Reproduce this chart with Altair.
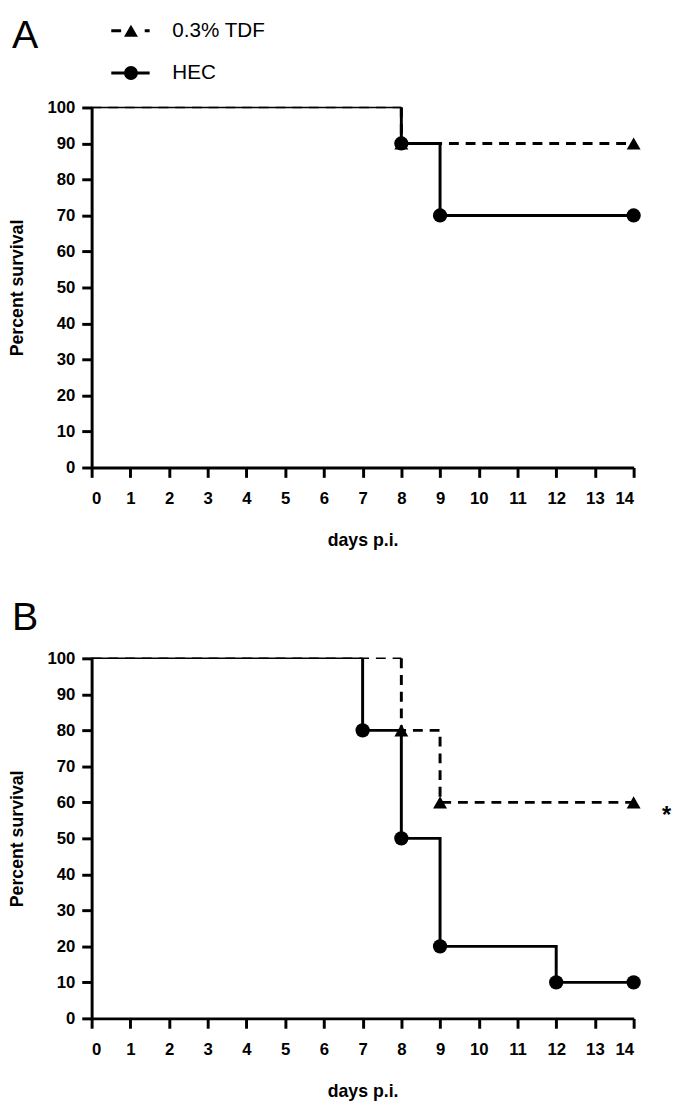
import altair as alt
import pandas as pd

# ---------------- data ----------------
x_ticks = list(range(0, 15))
y_ticks = list(range(0, 101, 10))

a_tdf_days = [0, 8, 14]
a_tdf_surv = [100, 90, 90]
a_hec_days = [0, 8, 9, 14]
a_hec_surv = [100, 90, 70, 70]

b_tdf_days = [0, 8, 9, 14]
b_tdf_surv = [100, 80, 60, 60]
b_hec_days = [0, 7, 8, 9, 12, 14]
b_hec_surv = [100, 80, 50, 20, 10, 10]

series_names = ["0.3% TDF", "HEC"]
panel_labels = ["A", "B"]
x_title = "days p.i."
y_title = "Percent survival"
sig_label = "*"
sig_day = [14.85]
sig_surv = [60]

# ---------------- helpers ----------------
W, H = 551, 366
AX_FONT = "Liberation Sans"
DASH = [10, 7]
DASH_LEG = [10, 24]


def thick_path(days, surv):
    d, s = [days[1]], [surv[0]]
    for i in range(1, len(days)):
        d += [days[i], days[i]]
        s += [surv[i - 1], surv[i]]
    return pd.DataFrame({"day": d, "surv": s, "ord": list(range(len(d)))})


def thin_path(days, surv):
    return pd.DataFrame({"day": [days[0], days[1]], "surv": [surv[0], surv[0]], "ord": [0, 1]})


def markers(days, surv):
    return pd.DataFrame({"day": days[1:], "surv": surv[1:]})


X = alt.X("day:Q", scale=alt.Scale(domain=[0, 14], nice=False, zero=False),
          axis=alt.Axis(values=x_ticks, title=x_title, format="d"))
Y = alt.Y("surv:Q", scale=alt.Scale(domain=[0, 100], nice=False),
          axis=alt.Axis(values=y_ticks, title=y_title, format="d"))

one = pd.DataFrame({"k": [0]})


def panel(tdf_days, tdf_surv, hec_days, hec_surv, letter, letter_y, legend=False, sig=False):
    layers = [
        alt.Chart(thin_path(tdf_days, tdf_surv)).mark_line(color="black", strokeWidth=1.5, strokeDash=DASH)
        .encode(x=X, y=Y, order="ord:Q"),
        alt.Chart(thin_path(hec_days, hec_surv)).mark_line(color="black", strokeWidth=1.5)
        .encode(x=X, y=Y, order="ord:Q"),
        alt.Chart(thick_path(tdf_days, tdf_surv)).mark_line(color="black", strokeWidth=3, strokeDash=DASH)
        .encode(x=X, y=Y, order="ord:Q"),
        alt.Chart(thick_path(hec_days, hec_surv)).mark_line(color="black", strokeWidth=3)
        .encode(x=X, y=Y, order="ord:Q"),
        alt.Chart(markers(tdf_days, tdf_surv)).mark_point(shape="triangle-up", filled=True, size=200,
                                                          color="black", opacity=1)
        .encode(x=X, y=Y),
        alt.Chart(markers(hec_days, hec_surv)).mark_point(shape="circle", filled=True, size=210,
                                                          color="black", opacity=1)
        .encode(x=X, y=Y),
        alt.Chart(one).mark_text(text=letter, font="Liberation Sans", fontSize=40, align="left",
                                 baseline="alphabetic", color="black")
        .encode(x=alt.value(-81), y=alt.value(letter_y)),
    ]
    if legend:
        rows = [(-78, series_names[0], "triangle-up", DASH_LEG), (-35, series_names[1], "circle", None)]
        for yy, name, shp, dash in rows:
            rule_kw = dict(color="black", strokeWidth=3)
            if dash:
                rule_kw["strokeDash"] = dash
            layers.append(alt.Chart(one).mark_rule(**rule_kw)
                          .encode(x=alt.value(20), x2=alt.value(59), y=alt.value(yy)))
            layers.append(alt.Chart(one).mark_point(shape=shp, filled=True, size=200, color="black", opacity=1)
                          .encode(x=alt.value(40), y=alt.value(yy)))
            layers.append(alt.Chart(one).mark_text(text=name, font=AX_FONT, fontSize=21, align="left",
                                                   baseline="middle", color="black")
                          .encode(x=alt.value(82), y=alt.value(yy)))
    if sig:
        sdf = pd.DataFrame({"day": sig_day, "surv": sig_surv, "lab": [sig_label]})
        layers.append(alt.Chart(sdf).mark_text(font=AX_FONT, fontSize=24, fontWeight="bold", align="center",
                                               baseline="alphabetic", dy=21, color="black")
                      .encode(x=X, y=Y, text="lab:N"))
    return alt.layer(*layers).properties(width=W, height=H)


chart_a = panel(a_tdf_days, a_tdf_surv, a_hec_days, a_hec_surv, panel_labels[0], -60, legend=True)
chart_b = panel(b_tdf_days, b_tdf_surv, b_hec_days, b_hec_surv, panel_labels[1], -29, sig=True)

chart = alt.vconcat(chart_a, chart_b, spacing=50).properties(padding=0).configure_view(
    stroke=None
).configure_axis(
    grid=False,
    domainColor="black", domainWidth=3,
    tickColor="black", tickWidth=3, tickSize=10,
    labelFont=AX_FONT, labelFontWeight="bold", labelFontSize=17, labelColor="black",
    titleFont=AX_FONT, titleFontWeight="bold", titleFontSize=18, titleColor="black",
).configure_axisX(
    labelPadding=14, titlePadding=25
).configure_axisY(
    labelPadding=7, titlePadding=21
)

chart.save("out.html", embed_options={"renderer": "svg", "actions": False})
